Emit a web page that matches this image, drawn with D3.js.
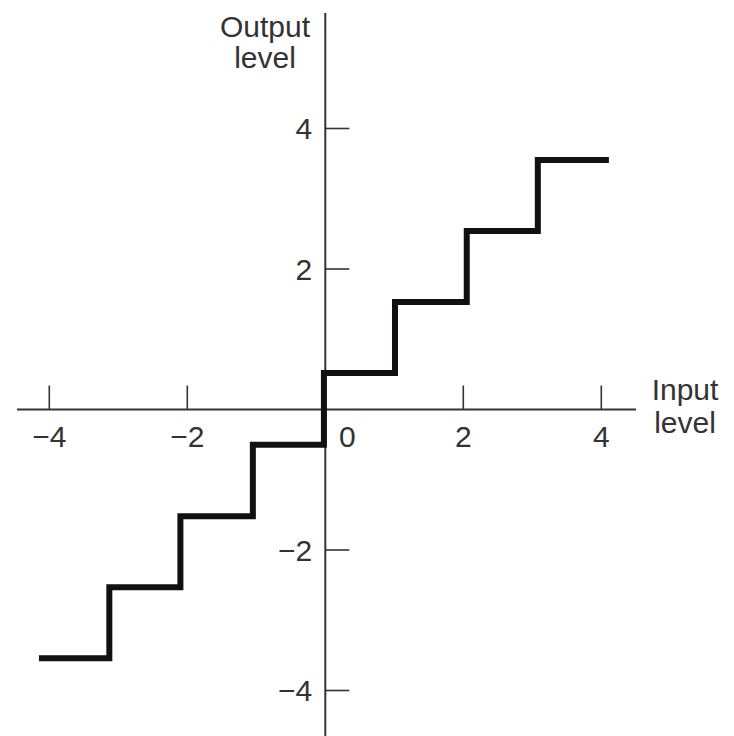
<!DOCTYPE html>
<html>
<head>
<meta charset="utf-8">
<script src="https://cdn.jsdelivr.net/npm/d3@7"></script>
<style>
  html, body { margin: 0; padding: 0; background: #fff; }
  svg { display: block; }
  text { font-family: "Liberation Sans", Arial, sans-serif; fill: #333; }
</style>
</head>
<body>
<script>
// ---- data ----
const xTicks = [-4, -2, 2, 4];
const yTicks = [4, 2, -2, -4];
const xTickLabels = ["\u22124", "\u22122", "2", "4"];
const yTickLabels = ["4", "2", "\u22122", "\u22124"];
const zeroLabel = "0";
// quantizer breakpoints (input level) and output levels
const stepEdges = [-4.15, -3.13, -2.10, -1.05, -0.02, 1.01, 2.05, 3.08, 4.11];
const stepLevels = [-3.54, -2.53, -1.52, -0.50, 0.52, 1.53, 2.54, 3.55];
const xTitle = ["Input", "level"];
const yTitle = ["Output", "level"];

// ---- layout ----
const W = 734, H = 736;
const svg = d3.select("body").append("svg").attr("width", W).attr("height", H);

const x = d3.scaleLinear().domain([-4, 4]).range([49.3, 601.3]);
const y = d3.scaleLinear().domain([-4, 4]).range([690.5, 128.5]);
const x0 = x(0), y0 = y(0);

const axisColor = "#333";

// x axis line
svg.append("line")
  .attr("x1", 17).attr("x2", 636)
  .attr("y1", y0).attr("y2", y0)
  .attr("stroke", axisColor).attr("stroke-width", 2);
// y axis line
svg.append("line")
  .attr("x1", x0).attr("x2", x0)
  .attr("y1", 13).attr("y2", H)
  .attr("stroke", axisColor).attr("stroke-width", 2);

// x ticks (pointing up)
svg.selectAll(".xt").data(xTicks).enter().append("line")
  .attr("x1", d => x(d)).attr("x2", d => x(d))
  .attr("y1", y0).attr("y2", y0 - 24)
  .attr("stroke", axisColor).attr("stroke-width", 1.6);
// y ticks (pointing right)
svg.selectAll(".yt").data(yTicks).enter().append("line")
  .attr("x1", x0).attr("x2", x0 + 24)
  .attr("y1", d => y(d)).attr("y2", d => y(d))
  .attr("stroke", axisColor).attr("stroke-width", 1.6);

const fs = 30;
// x tick labels
svg.selectAll(".xl").data(xTicks).enter().append("text")
  .attr("x", d => x(d)).attr("y", y0 + 37)
  .attr("text-anchor", "middle").attr("font-size", fs)
  .text((d, i) => xTickLabels[i]);
// zero label
svg.append("text")
  .attr("x", x0 + 22).attr("y", y0 + 37)
  .attr("text-anchor", "middle").attr("font-size", fs)
  .text(zeroLabel);
// y tick labels
svg.selectAll(".yl").data(yTicks).enter().append("text")
  .attr("x", x0 - 13).attr("y", d => y(d) + 10.7)
  .attr("text-anchor", "end").attr("font-size", fs)
  .text((d, i) => yTickLabels[i]);

// axis titles
svg.append("text").attr("x", 265).attr("y", 37)
  .attr("text-anchor", "middle").attr("font-size", fs).text(yTitle[0]);
svg.append("text").attr("x", 265).attr("y", 68)
  .attr("text-anchor", "middle").attr("font-size", fs).text(yTitle[1]);
svg.append("text").attr("x", 685).attr("y", 400)
  .attr("text-anchor", "middle").attr("font-size", fs).text(xTitle[0]);
svg.append("text").attr("x", 685).attr("y", 433)
  .attr("text-anchor", "middle").attr("font-size", fs).text(xTitle[1]);

// staircase
const pts = stepLevels.map((v, i) => [stepEdges[i], v]);
pts.push([stepEdges[stepEdges.length - 1], stepLevels[stepLevels.length - 1]]);
const line = d3.line().x(d => x(d[0])).y(d => y(d[1])).curve(d3.curveStepAfter);
svg.append("path")
  .attr("d", line(pts))
  .attr("fill", "none")
  .attr("stroke", "#111")
  .attr("stroke-width", 6)
  .attr("stroke-linejoin", "miter")
  .attr("stroke-linecap", "butt");
</script>
</body>
</html>
